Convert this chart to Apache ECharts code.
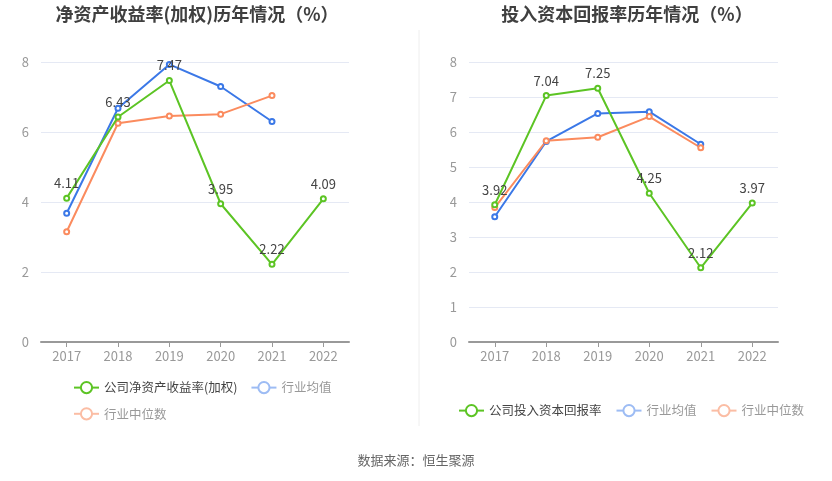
<!DOCTYPE html>
<html><head><meta charset="utf-8">
<script src="https://cdn.jsdelivr.net/npm/echarts@6/dist/echarts.min.js"></script>
<style>html,body{margin:0;padding:0;background:#fff}#c{width:832px;height:481px}</style>
</head><body><div id="c"></div>
<script>
const years = ['2017','2018','2019','2020','2021','2022'];
const roeCompany = [4.11, 6.43, 7.47, 3.95, 2.22, 4.09];
const roeAvg = [3.68, 6.68, 7.93, 7.30, 6.30, null];
const roeMedian = [3.15, 6.25, 6.46, 6.51, 7.04, null];
const roicCompany = [3.92, 7.04, 7.25, 4.25, 2.12, 3.97];
const roicAvg = [3.58, 5.73, 6.53, 6.58, 5.65, null];
const roicMedian = [3.84, 5.75, 5.85, 6.44, 5.55, null];
const leftTicks = [0, 2, 4, 6, 8];
const rightTicks = [0, 1, 2, 3, 4, 5, 6, 7, 8];

const FONT = '"Noto Sans CJK SC", "Noto Sans", sans-serif';
const GREEN = '#5cc424', BLUE = '#3b78e7', ORANGE = '#fb8b5e';
const chart = echarts.init(document.getElementById('c'));

function xAx(i){return {type:'category',gridIndex:i,data:years,boundaryGap:true,
  axisLine:{lineStyle:{color:'#999',width:2}},axisTick:{show:true,alignWithLabel:true,lineStyle:{color:'#999'}},
  axisLabel:{color:'#999',fontSize:13,fontFamily:FONT,margin:8}};}
function yAx(i,ticks){return {type:'value',gridIndex:i,min:ticks[0],max:ticks[ticks.length-1],interval:ticks[1]-ticks[0],
  axisLine:{show:false},axisTick:{show:false},
  axisLabel:{color:'#999',fontSize:13,fontFamily:FONT,margin:12},
  splitLine:{lineStyle:{color:'#e5e9f4'}}};}
function ser(name,data,color,idx,label){return {name,type:'line',data,xAxisIndex:idx,yAxisIndex:idx,
  symbol:'emptyCircle',symbolSize:5,lineStyle:{color,width:2},itemStyle:{color},
  label:{show:!!label,position:'top',distance:5,color:'#444',fontSize:13,fontFamily:FONT},z:label?3:2};}

chart.setOption({
  animation:false,
  title:[
    {text:'净资产收益率(加权)历年情况（%）',left:192,top:0,textAlign:'center',textStyle:{fontSize:18,fontWeight:'bold',color:'#404040',fontFamily:FONT}},
    {text:'投入资本回报率历年情况（%）',left:622,top:0,textAlign:'center',textStyle:{fontSize:18,fontWeight:'bold',color:'#404040',fontFamily:FONT}}
  ],
  grid:[{left:41,top:62,width:308,height:280},{left:469,top:62,width:309,height:280}],
  xAxis:[xAx(0),xAx(1)],
  yAxis:[yAx(0,leftTicks),yAx(1,rightTicks)],
  legend:[
    {left:68,top:376,width:280,itemWidth:25,itemHeight:14,itemGap:13,
     textStyle:{fontSize:12.5,fontFamily:FONT,color:'#999'},
     data:[{name:'公司净资产收益率(加权)',textStyle:{color:'#444'}},
           {name:'行业均值',itemStyle:{color:'#9dbcf4'},lineStyle:{color:'#9dbcf4'}},
           {name:'行业中位数',itemStyle:{color:'#fbbda4'},lineStyle:{color:'#fbbda4'}}]},
    {left:453,top:399,itemWidth:25,itemHeight:14,itemGap:14,
     textStyle:{fontSize:12.5,fontFamily:FONT,color:'#999'},
     data:[{name:'公司投入资本回报率',textStyle:{color:'#444'}},
           {name:'行业均值',itemStyle:{color:'#9dbcf4'},lineStyle:{color:'#9dbcf4'}},
           {name:'行业中位数',itemStyle:{color:'#fbbda4'},lineStyle:{color:'#fbbda4'}}]}
  ],
  graphic:[
    {type:'line',shape:{x1:419,y1:30,x2:419,y2:426},style:{stroke:'#eeeeee',lineWidth:1}},
    {type:'text',left:'center',top:454,style:{text:'数据来源：恒生聚源',fill:'#666',fontSize:13,fontFamily:FONT}}
  ],
  series:[
    ser('公司净资产收益率(加权)',roeCompany,GREEN,0,true),
    ser('行业均值',roeAvg,BLUE,0,false),
    ser('行业中位数',roeMedian,ORANGE,0,false),
    ser('公司投入资本回报率',roicCompany,GREEN,1,true),
    ser('行业均值',roicAvg,BLUE,1,false),
    ser('行业中位数',roicMedian,ORANGE,1,false)
  ]
});
</script></body></html>
